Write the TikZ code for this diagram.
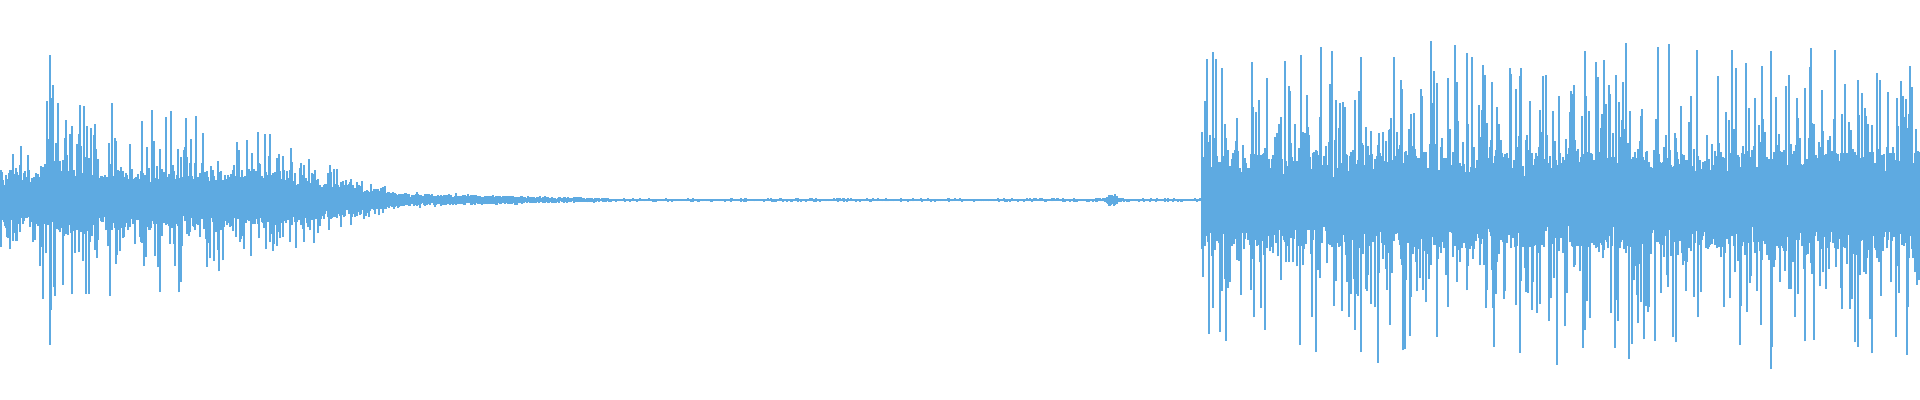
\documentclass[tikz,border=0pt]{standalone}
\definecolor{wave}{RGB}{94,170,225}
\begin{document}
\begin{tikzpicture}[x=0.01cm,y=0.01cm,wavestroke/.style={draw=wave,line width=0.32pt}]
\useasboundingbox (0,-200) rectangle (1920,200);
\pgfmathsetseed{7}
\foreach \i in {0,...,1919}{
  \ifnum\i<40 \def\b{26}\def\p{55}\else
  \ifnum\i<306 \pgfmathsetmacro\b{30-8*(\i-40)/266}\pgfmathsetmacro\p{125-60*(\i-40)/266}\else
  \ifnum\i<404 \pgfmathsetmacro\b{22-16*(\i-306)/98}\pgfmathsetmacro\p{45-37*(\i-306)/98}\else
  \ifnum\i<612 \pgfmathsetmacro\b{6-4.5*(\i-404)/208}\pgfmathsetmacro\p{8-6*(\i-404)/208}\else
  \ifnum\i<1202 \pgfmathsetmacro\b{1.2+5*exp(-((\i-1112)/6)^2)}\pgfmathsetmacro\p{\b+1}\else
  \def\b{44}\def\p{165}\fi\fi\fi\fi\fi
  \pgfmathsetmacro\au{\b*(0.5+0.6*rnd)+(\p-\b)*rnd^5}
  \pgfmathsetmacro\ad{\b*(0.5+0.6*rnd)+(\p-\b)*rnd^5}
  \draw[wavestroke] (\i,-\ad) -- (\i,\au);
}
\draw[wavestroke] (50,-145) -- (50,145);
\end{tikzpicture}
\end{document}
